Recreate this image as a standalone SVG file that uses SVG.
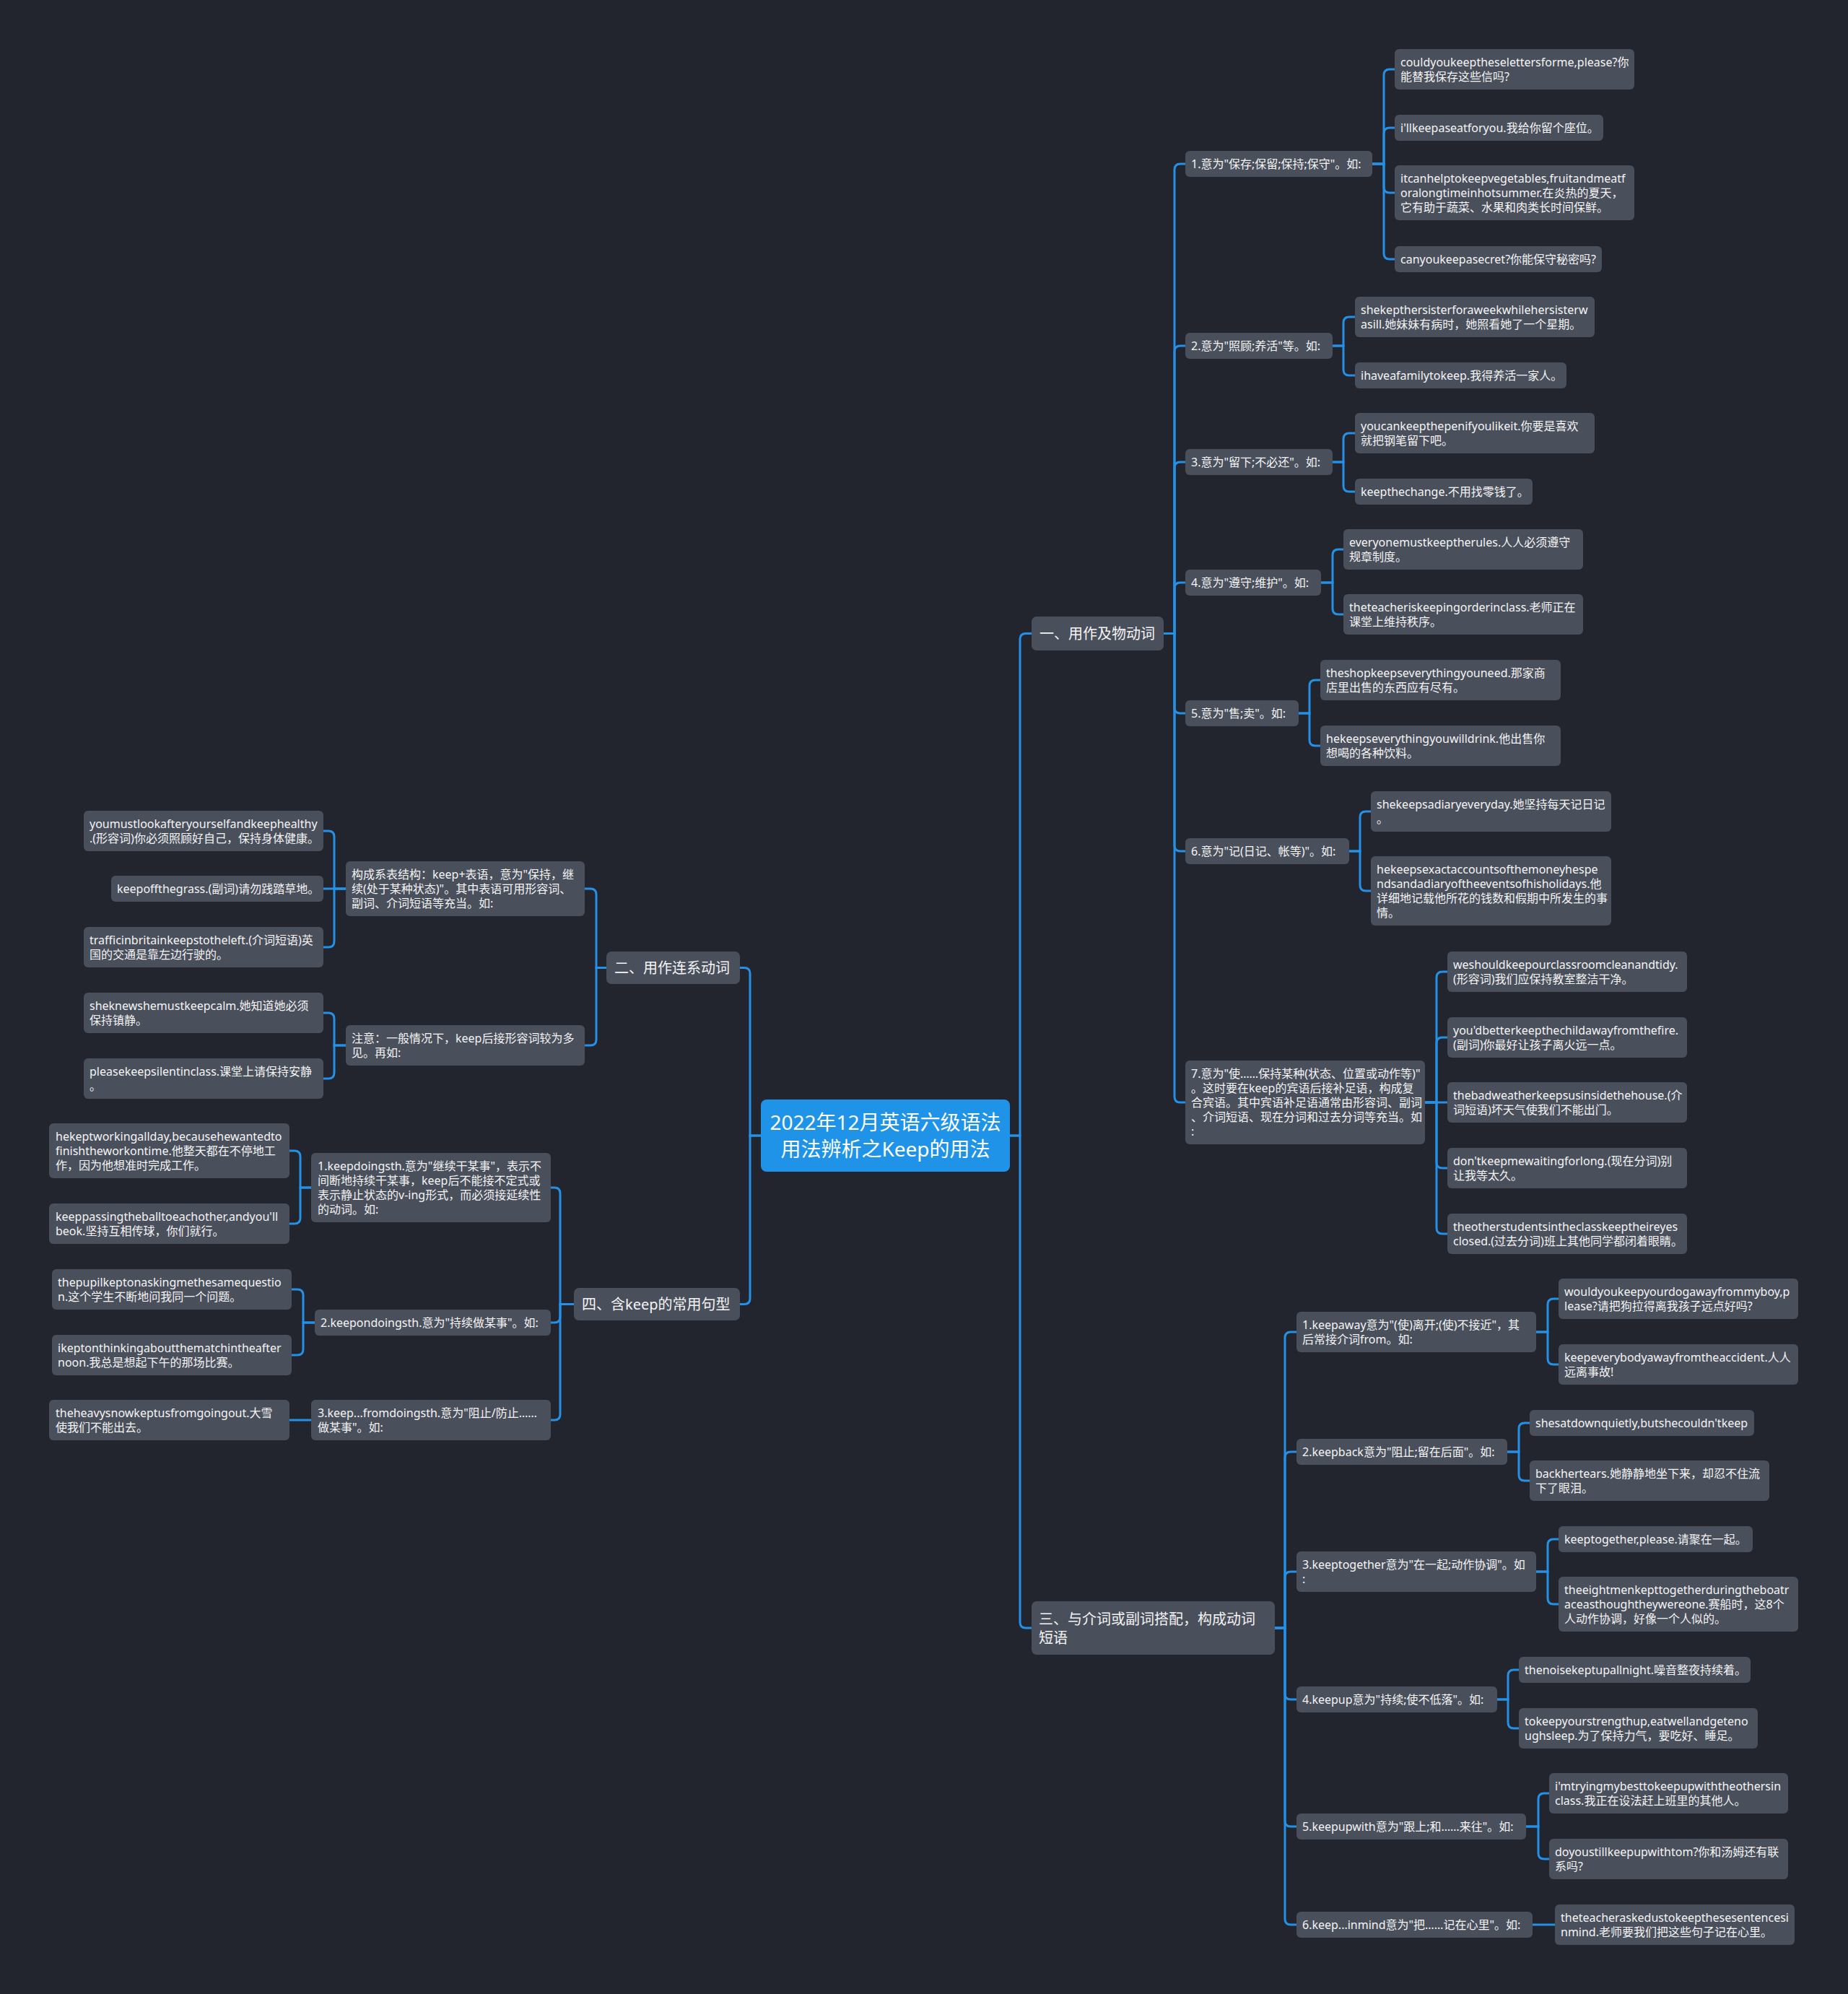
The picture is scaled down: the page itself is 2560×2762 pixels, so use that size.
<svg xmlns="http://www.w3.org/2000/svg" width="2560" height="2762" viewBox="0 0 2560 2762">
<style>
.bg{fill:#22252e}
.n rect{fill:#4a4f5c}
.n text{font-family:"Noto Sans","Noto Sans CJK SC",sans-serif;font-size:16px;fill:#f4f4f4}
.br text{font-size:20px}
.root rect{fill:#1f93e8}
.root text{font-family:"Noto Sans","Noto Sans CJK SC",sans-serif;font-size:28px;fill:#ffffff;text-anchor:middle}
.c path{fill:none;stroke:#2490e6;stroke-width:3}
</style>
<rect class="bg" x="0" y="0" width="2560" height="2762"/>
<g class="c" id="connectors">
<path d="M1399 1573H1413V885.5Q1413 877.5 1421 877.5H1429"/>
<path d="M1399 1573H1413V2247Q1413 2255 1421 2255H1429"/>
<path d="M1054 1573H1039V1348.5Q1039 1340.5 1031 1340.5H1025"/>
<path d="M1054 1573H1039V1798.5Q1039 1806.5 1031 1806.5H1025"/>
<path d="M1612 877.5H1627V235Q1627 227 1635 227H1642"/>
<path d="M1612 877.5H1627V487Q1627 479 1635 479H1642"/>
<path d="M1612 877.5H1627V648Q1627 640 1635 640H1642"/>
<path d="M1612 877.5H1627V815Q1627 807 1635 807H1642"/>
<path d="M1612 877.5H1627V980Q1627 988 1635 988H1642"/>
<path d="M1612 877.5H1627V1171Q1627 1179 1635 1179H1642"/>
<path d="M1612 877.5H1627V1519Q1627 1527 1635 1527H1642"/>
<path d="M1901 227H1917V104Q1917 96 1925 96H1932"/>
<path d="M1901 227H1917V185Q1917 177 1925 177H1932"/>
<path d="M1901 227H1917V259Q1917 267 1925 267H1932"/>
<path d="M1901 227H1917V351Q1917 359 1925 359H1932"/>
<path d="M1846 479H1861V447Q1861 439 1869 439H1877"/>
<path d="M1846 479H1861V512Q1861 520 1869 520H1877"/>
<path d="M1846 640H1861V608Q1861 600 1869 600H1877"/>
<path d="M1846 640H1861V673Q1861 681 1869 681H1877"/>
<path d="M1830 807H1846V769Q1846 761 1854 761H1861"/>
<path d="M1830 807H1846V843Q1846 851 1854 851H1861"/>
<path d="M1799 988H1814V950Q1814 942 1822 942H1829"/>
<path d="M1799 988H1814V1025Q1814 1033 1822 1033H1829"/>
<path d="M1869 1179H1884V1132Q1884 1124 1892 1124H1899"/>
<path d="M1869 1179H1884V1226Q1884 1234 1892 1234H1899"/>
<path d="M1974 1527H1990V1354Q1990 1346 1998 1346H2005"/>
<path d="M1974 1527H1990V1445Q1990 1437 1998 1437H2005"/>
<path d="M1974 1527H2005"/>
<path d="M1974 1527H1990V1610Q1990 1618 1998 1618H2005"/>
<path d="M1974 1527H1990V1701Q1990 1709 1998 1709H2005"/>
<path d="M1766 2255H1780V1853Q1780 1845 1788 1845H1796"/>
<path d="M1766 2255H1780V2019Q1780 2011 1788 2011H1796"/>
<path d="M1766 2255H1780V2185Q1780 2177 1788 2177H1796"/>
<path d="M1766 2255H1780V2346Q1780 2354 1788 2354H1796"/>
<path d="M1766 2255H1780V2522Q1780 2530 1788 2530H1796"/>
<path d="M1766 2255H1780V2658Q1780 2666 1788 2666H1796"/>
<path d="M2128 1845H2144V1807Q2144 1799 2152 1799H2159"/>
<path d="M2128 1845H2144V1882Q2144 1890 2152 1890H2159"/>
<path d="M2088 2011H2104V1979Q2104 1971 2112 1971H2119"/>
<path d="M2088 2011H2104V2043Q2104 2051 2112 2051H2119"/>
<path d="M2128 2177H2144V2140Q2144 2132 2152 2132H2159"/>
<path d="M2128 2177H2144V2214Q2144 2222 2152 2222H2159"/>
<path d="M2074 2354H2089V2321Q2089 2313 2097 2313H2104"/>
<path d="M2074 2354H2089V2386Q2089 2394 2097 2394H2104"/>
<path d="M2114 2530H2131V2492Q2131 2484 2139 2484H2146"/>
<path d="M2114 2530H2131V2567Q2131 2575 2139 2575H2146"/>
<path d="M2123 2666H2154"/>
<path d="M840 1340.5H826V1239Q826 1231 818 1231H810"/>
<path d="M840 1340.5H826V1440Q826 1448 818 1448H810"/>
<path d="M479 1231H463V1159Q463 1151 455 1151H448"/>
<path d="M479 1231H448"/>
<path d="M479 1231H463V1304Q463 1312 455 1312H448"/>
<path d="M479 1448H463V1411Q463 1403 455 1403H448"/>
<path d="M479 1448H463V1486Q463 1494 455 1494H448"/>
<path d="M795 1806.5H776V1653Q776 1645 768 1645H763"/>
<path d="M795 1806.5H776V1824Q776 1832 768 1832H763"/>
<path d="M795 1806.5H776V1959Q776 1967 768 1967H763"/>
<path d="M431 1645H416V1602Q416 1594 408 1594H401"/>
<path d="M431 1645H416V1687Q416 1695 408 1695H401"/>
<path d="M436 1832H420V1794Q420 1786 412 1786H404"/>
<path d="M436 1832H420V1869Q420 1877 412 1877H404"/>
<path d="M431 1967H401"/>
</g>
<g class="root" id="root"><rect x="1054" y="1523" width="345" height="100" rx="8"/><text><tspan x="1226.5" y="1565">2022年12月英语六级语法</tspan><tspan x="1226.5" y="1602">用法辨析之Keep的用法</tspan></text></g>
<g class="n br" id="b1"><rect x="1429" y="854" width="183" height="47" rx="7"/><text><tspan x="1440" y="885">一、用作及物动词</tspan></text></g>
<g class="n br" id="b2"><rect x="840" y="1318" width="185" height="45" rx="7"/><text><tspan x="851" y="1348">二、用作连系动词</tspan></text></g>
<g class="n br" id="b3"><rect x="1429" y="2218" width="337" height="74" rx="7"/><text><tspan x="1439" y="2250">三、与介词或副词搭配，构成动词</tspan><tspan x="1439" y="2276">短语</tspan></text></g>
<g class="n br" id="b4"><rect x="795" y="1784" width="230" height="45" rx="7"/><text><tspan x="806" y="1814">四、含keep的常用句型</tspan></text></g>
<g class="n" id="n1_1"><rect x="1642" y="209" width="259" height="36" rx="6"/><text><tspan x="1650" y="233">1.意为"保存;保留;保持;保守"。如:</tspan></text></g>
<g class="n" id="n1_1a"><rect x="1932" y="68" width="332" height="56" rx="6"/><text><tspan x="1940" y="92">couldyoukeeptheselettersforme,please?你</tspan><tspan x="1940" y="112">能替我保存这些信吗?</tspan></text></g>
<g class="n" id="n1_1b"><rect x="1932" y="159" width="289" height="36" rx="6"/><text><tspan x="1940" y="183">i'llkeepaseatforyou.我给你留个座位。</tspan></text></g>
<g class="n" id="n1_1c"><rect x="1932" y="229" width="332" height="76" rx="6"/><text><tspan x="1940" y="253">itcanhelptokeepvegetables,fruitandmeatf</tspan><tspan x="1940" y="273">oralongtimeinhotsummer.在炎热的夏天，</tspan><tspan x="1940" y="293">它有助于蔬菜、水果和肉类长时间保鲜。</tspan></text></g>
<g class="n" id="n1_1d"><rect x="1932" y="341" width="287" height="36" rx="6"/><text><tspan x="1940" y="365">canyoukeepasecret?你能保守秘密吗?</tspan></text></g>
<g class="n" id="n1_2"><rect x="1642" y="461" width="204" height="36" rx="6"/><text><tspan x="1650" y="485">2.意为"照顾;养活"等。如:</tspan></text></g>
<g class="n" id="n1_2a"><rect x="1877" y="411" width="332" height="56" rx="6"/><text><tspan x="1885" y="435">shekepthersisterforaweekwhilehersisterw</tspan><tspan x="1885" y="455">asill.她妹妹有病时，她照看她了一个星期。</tspan></text></g>
<g class="n" id="n1_2b"><rect x="1877" y="502" width="293" height="36" rx="6"/><text><tspan x="1885" y="526">ihaveafamilytokeep.我得养活一家人。</tspan></text></g>
<g class="n" id="n1_3"><rect x="1642" y="622" width="204" height="36" rx="6"/><text><tspan x="1650" y="646">3.意为"留下;不必还"。如:</tspan></text></g>
<g class="n" id="n1_3a"><rect x="1877" y="572" width="332" height="56" rx="6"/><text><tspan x="1885" y="596">youcankeepthepenifyoulikeit.你要是喜欢</tspan><tspan x="1885" y="616">就把钢笔留下吧。</tspan></text></g>
<g class="n" id="n1_3b"><rect x="1877" y="663" width="246" height="36" rx="6"/><text><tspan x="1885" y="687">keepthechange.不用找零钱了。</tspan></text></g>
<g class="n" id="n1_4"><rect x="1642" y="789" width="188" height="36" rx="6"/><text><tspan x="1650" y="813">4.意为"遵守;维护"。如:</tspan></text></g>
<g class="n" id="n1_4a"><rect x="1861" y="733" width="332" height="56" rx="6"/><text><tspan x="1869" y="757">everyonemustkeeptherules.人人必须遵守</tspan><tspan x="1869" y="777">规章制度。</tspan></text></g>
<g class="n" id="n1_4b"><rect x="1861" y="823" width="332" height="56" rx="6"/><text><tspan x="1869" y="847">theteacheriskeepingorderinclass.老师正在</tspan><tspan x="1869" y="867">课堂上维持秩序。</tspan></text></g>
<g class="n" id="n1_5"><rect x="1642" y="970" width="157" height="36" rx="6"/><text><tspan x="1650" y="994">5.意为"售;卖"。如:</tspan></text></g>
<g class="n" id="n1_5a"><rect x="1829" y="914" width="333" height="56" rx="6"/><text><tspan x="1837" y="938">theshopkeepseverythingyouneed.那家商</tspan><tspan x="1837" y="958">店里出售的东西应有尽有。</tspan></text></g>
<g class="n" id="n1_5b"><rect x="1829" y="1005" width="333" height="56" rx="6"/><text><tspan x="1837" y="1029">hekeepseverythingyouwilldrink.他出售你</tspan><tspan x="1837" y="1049">想喝的各种饮料。</tspan></text></g>
<g class="n" id="n1_6"><rect x="1642" y="1161" width="227" height="36" rx="6"/><text><tspan x="1650" y="1185">6.意为"记(日记、帐等)"。如:</tspan></text></g>
<g class="n" id="n1_6a"><rect x="1899" y="1096" width="333" height="56" rx="6"/><text><tspan x="1907" y="1120">shekeepsadiaryeveryday.她坚持每天记日记</tspan><tspan x="1907" y="1140">。</tspan></text></g>
<g class="n" id="n1_6b"><rect x="1899" y="1186" width="333" height="96" rx="6"/><text><tspan x="1907" y="1210">hekeepsexactaccountsofthemoneyhespe</tspan><tspan x="1907" y="1230">ndsandadiaryoftheeventsofhisholidays.他</tspan><tspan x="1907" y="1250">详细地记载他所花的钱数和假期中所发生的事</tspan><tspan x="1907" y="1270">情。</tspan></text></g>
<g class="n" id="n1_7"><rect x="1642" y="1469" width="332" height="116" rx="6"/><text><tspan x="1650" y="1493">7.意为"使……保持某种(状态、位置或动作等)"</tspan><tspan x="1650" y="1513">。这时要在keep的宾语后接补足语，构成复</tspan><tspan x="1650" y="1533">合宾语。其中宾语补足语通常由形容词、副词</tspan><tspan x="1650" y="1553">、介词短语、现在分词和过去分词等充当。如</tspan><tspan x="1650" y="1573">:</tspan></text></g>
<g class="n" id="n1_7a"><rect x="2005" y="1318" width="332" height="56" rx="6"/><text><tspan x="2013" y="1342">weshouldkeepourclassroomcleanandtidy.</tspan><tspan x="2013" y="1362">(形容词)我们应保持教室整洁干净。</tspan></text></g>
<g class="n" id="n1_7b"><rect x="2005" y="1409" width="332" height="56" rx="6"/><text><tspan x="2013" y="1433">you'dbetterkeepthechildawayfromthefire.</tspan><tspan x="2013" y="1453">(副词)你最好让孩子离火远一点。</tspan></text></g>
<g class="n" id="n1_7c"><rect x="2005" y="1499" width="332" height="56" rx="6"/><text><tspan x="2013" y="1523">thebadweatherkeepsusinsidethehouse.(介</tspan><tspan x="2013" y="1543">词短语)坏天气使我们不能出门。</tspan></text></g>
<g class="n" id="n1_7d"><rect x="2005" y="1590" width="332" height="56" rx="6"/><text><tspan x="2013" y="1614">don'tkeepmewaitingforlong.(现在分词)别</tspan><tspan x="2013" y="1634">让我等太久。</tspan></text></g>
<g class="n" id="n1_7e"><rect x="2005" y="1681" width="332" height="56" rx="6"/><text><tspan x="2013" y="1705">theotherstudentsintheclasskeeptheireyes</tspan><tspan x="2013" y="1725">closed.(过去分词)班上其他同学都闭着眼睛。</tspan></text></g>
<g class="n" id="n3_1"><rect x="1796" y="1817" width="332" height="56" rx="6"/><text><tspan x="1804" y="1841">1.keepaway意为"(使)离开;(使)不接近"，其</tspan><tspan x="1804" y="1861">后常接介词from。如:</tspan></text></g>
<g class="n" id="n3_1a"><rect x="2159" y="1771" width="332" height="56" rx="6"/><text><tspan x="2167" y="1795">wouldyoukeepyourdogawayfrommyboy,p</tspan><tspan x="2167" y="1815">lease?请把狗拉得离我孩子远点好吗?</tspan></text></g>
<g class="n" id="n3_1b"><rect x="2159" y="1862" width="332" height="56" rx="6"/><text><tspan x="2167" y="1886">keepeverybodyawayfromtheaccident.人人</tspan><tspan x="2167" y="1906">远离事故!</tspan></text></g>
<g class="n" id="n3_2"><rect x="1796" y="1993" width="292" height="36" rx="6"/><text><tspan x="1804" y="2017">2.keepback意为"阻止;留在后面"。如:</tspan></text></g>
<g class="n" id="n3_2a"><rect x="2119" y="1953" width="311" height="36" rx="6"/><text><tspan x="2127" y="1977">shesatdownquietly,butshecouldn'tkeep</tspan></text></g>
<g class="n" id="n3_2b"><rect x="2119" y="2023" width="332" height="56" rx="6"/><text><tspan x="2127" y="2047">backhertears.她静静地坐下来，却忍不住流</tspan><tspan x="2127" y="2067">下了眼泪。</tspan></text></g>
<g class="n" id="n3_3"><rect x="1796" y="2149" width="332" height="56" rx="6"/><text><tspan x="1804" y="2173">3.keeptogether意为"在一起;动作协调"。如</tspan><tspan x="1804" y="2193">:</tspan></text></g>
<g class="n" id="n3_3a"><rect x="2159" y="2114" width="269" height="36" rx="6"/><text><tspan x="2167" y="2138">keeptogether,please.请聚在一起。</tspan></text></g>
<g class="n" id="n3_3b"><rect x="2159" y="2184" width="332" height="76" rx="6"/><text><tspan x="2167" y="2208">theeightmenkepttogetherduringtheboatr</tspan><tspan x="2167" y="2228">aceasthoughtheywereone.赛船时，这8个</tspan><tspan x="2167" y="2248">人动作协调，好像一个人似的。</tspan></text></g>
<g class="n" id="n3_4"><rect x="1796" y="2336" width="278" height="36" rx="6"/><text><tspan x="1804" y="2360">4.keepup意为"持续;使不低落"。如:</tspan></text></g>
<g class="n" id="n3_4a"><rect x="2104" y="2295" width="321" height="36" rx="6"/><text><tspan x="2112" y="2319">thenoisekeptupallnight.噪音整夜持续着。</tspan></text></g>
<g class="n" id="n3_4b"><rect x="2104" y="2366" width="331" height="56" rx="6"/><text><tspan x="2112" y="2390">tokeepyourstrengthup,eatwellandgeteno</tspan><tspan x="2112" y="2410">ughsleep.为了保持力气，要吃好、睡足。</tspan></text></g>
<g class="n" id="n3_5"><rect x="1796" y="2512" width="318" height="36" rx="6"/><text><tspan x="1804" y="2536">5.keepupwith意为"跟上;和……来往"。如:</tspan></text></g>
<g class="n" id="n3_5a"><rect x="2146" y="2456" width="331" height="56" rx="6"/><text><tspan x="2154" y="2480">i'mtryingmybesttokeepupwiththeothersin</tspan><tspan x="2154" y="2500">class.我正在设法赶上班里的其他人。</tspan></text></g>
<g class="n" id="n3_5b"><rect x="2146" y="2547" width="331" height="56" rx="6"/><text><tspan x="2154" y="2571">doyoustillkeepupwithtom?你和汤姆还有联</tspan><tspan x="2154" y="2591">系吗?</tspan></text></g>
<g class="n" id="n3_6"><rect x="1796" y="2648" width="327" height="36" rx="6"/><text><tspan x="1804" y="2672">6.keep...inmind意为"把……记在心里"。如:</tspan></text></g>
<g class="n" id="n3_6a"><rect x="2154" y="2638" width="332" height="56" rx="6"/><text><tspan x="2162" y="2662">theteacheraskedustokeepthesesentencesi</tspan><tspan x="2162" y="2682">nmind.老师要我们把这些句子记在心里。</tspan></text></g>
<g class="n" id="n2_1"><rect x="479" y="1193" width="331" height="76" rx="6"/><text><tspan x="487" y="1217">构成系表结构：keep+表语，意为"保持，继</tspan><tspan x="487" y="1237">续(处于某种状态)"。其中表语可用形容词、</tspan><tspan x="487" y="1257">副词、介词短语等充当。如:</tspan></text></g>
<g class="n" id="n2_1a"><rect x="116" y="1123" width="332" height="56" rx="6"/><text><tspan x="124" y="1147">youmustlookafteryourselfandkeephealthy</tspan><tspan x="124" y="1167">.(形容词)你必须照顾好自己，保持身体健康。</tspan></text></g>
<g class="n" id="n2_1b"><rect x="154" y="1213" width="294" height="36" rx="6"/><text><tspan x="162" y="1237">keepoffthegrass.(副词)请勿践踏草地。</tspan></text></g>
<g class="n" id="n2_1c"><rect x="116" y="1284" width="332" height="56" rx="6"/><text><tspan x="124" y="1308">trafficinbritainkeepstotheleft.(介词短语)英</tspan><tspan x="124" y="1328">国的交通是靠左边行驶的。</tspan></text></g>
<g class="n" id="n2_2"><rect x="479" y="1420" width="331" height="56" rx="6"/><text><tspan x="487" y="1444">注意：一般情况下，keep后接形容词较为多</tspan><tspan x="487" y="1464">见。再如:</tspan></text></g>
<g class="n" id="n2_2a"><rect x="116" y="1375" width="332" height="56" rx="6"/><text><tspan x="124" y="1399">sheknewshemustkeepcalm.她知道她必须</tspan><tspan x="124" y="1419">保持镇静。</tspan></text></g>
<g class="n" id="n2_2b"><rect x="116" y="1466" width="332" height="56" rx="6"/><text><tspan x="124" y="1490">pleasekeepsilentinclass.课堂上请保持安静</tspan><tspan x="124" y="1510">。</tspan></text></g>
<g class="n" id="n4_1"><rect x="431" y="1597" width="332" height="96" rx="6"/><text><tspan x="440" y="1621">1.keepdoingsth.意为"继续干某事"，表示不</tspan><tspan x="440" y="1641">间断地持续干某事，keep后不能接不定式或</tspan><tspan x="440" y="1661">表示静止状态的v-ing形式，而必须接延续性</tspan><tspan x="440" y="1681">的动词。如:</tspan></text></g>
<g class="n" id="n4_1a"><rect x="68" y="1556" width="333" height="76" rx="6"/><text><tspan x="77" y="1580">hekeptworkingallday,becausehewantedto</tspan><tspan x="77" y="1600">finishtheworkontime.他整天都在不停地工</tspan><tspan x="77" y="1620">作，因为他想准时完成工作。</tspan></text></g>
<g class="n" id="n4_1b"><rect x="68" y="1667" width="333" height="56" rx="6"/><text><tspan x="77" y="1691">keeppassingtheballtoeachother,andyou'll</tspan><tspan x="77" y="1711">beok.坚持互相传球，你们就行。</tspan></text></g>
<g class="n" id="n4_2"><rect x="436" y="1814" width="327" height="36" rx="6"/><text><tspan x="444" y="1838">2.keepondoingsth.意为"持续做某事"。如:</tspan></text></g>
<g class="n" id="n4_2a"><rect x="72" y="1758" width="332" height="56" rx="6"/><text><tspan x="80" y="1782">thepupilkeptonaskingmethesamequestio</tspan><tspan x="80" y="1802">n.这个学生不断地问我同一个问题。</tspan></text></g>
<g class="n" id="n4_2b"><rect x="72" y="1849" width="332" height="56" rx="6"/><text><tspan x="80" y="1873">ikeptonthinkingaboutthematchintheafter</tspan><tspan x="80" y="1893">noon.我总是想起下午的那场比赛。</tspan></text></g>
<g class="n" id="n4_3"><rect x="431" y="1939" width="332" height="56" rx="6"/><text><tspan x="440" y="1963">3.keep...fromdoingsth.意为"阻止/防止……</tspan><tspan x="440" y="1983">做某事"。如:</tspan></text></g>
<g class="n" id="n4_3a"><rect x="68" y="1939" width="333" height="56" rx="6"/><text><tspan x="77" y="1963">theheavysnowkeptusfromgoingout.大雪</tspan><tspan x="77" y="1983">使我们不能出去。</tspan></text></g>
</svg>
